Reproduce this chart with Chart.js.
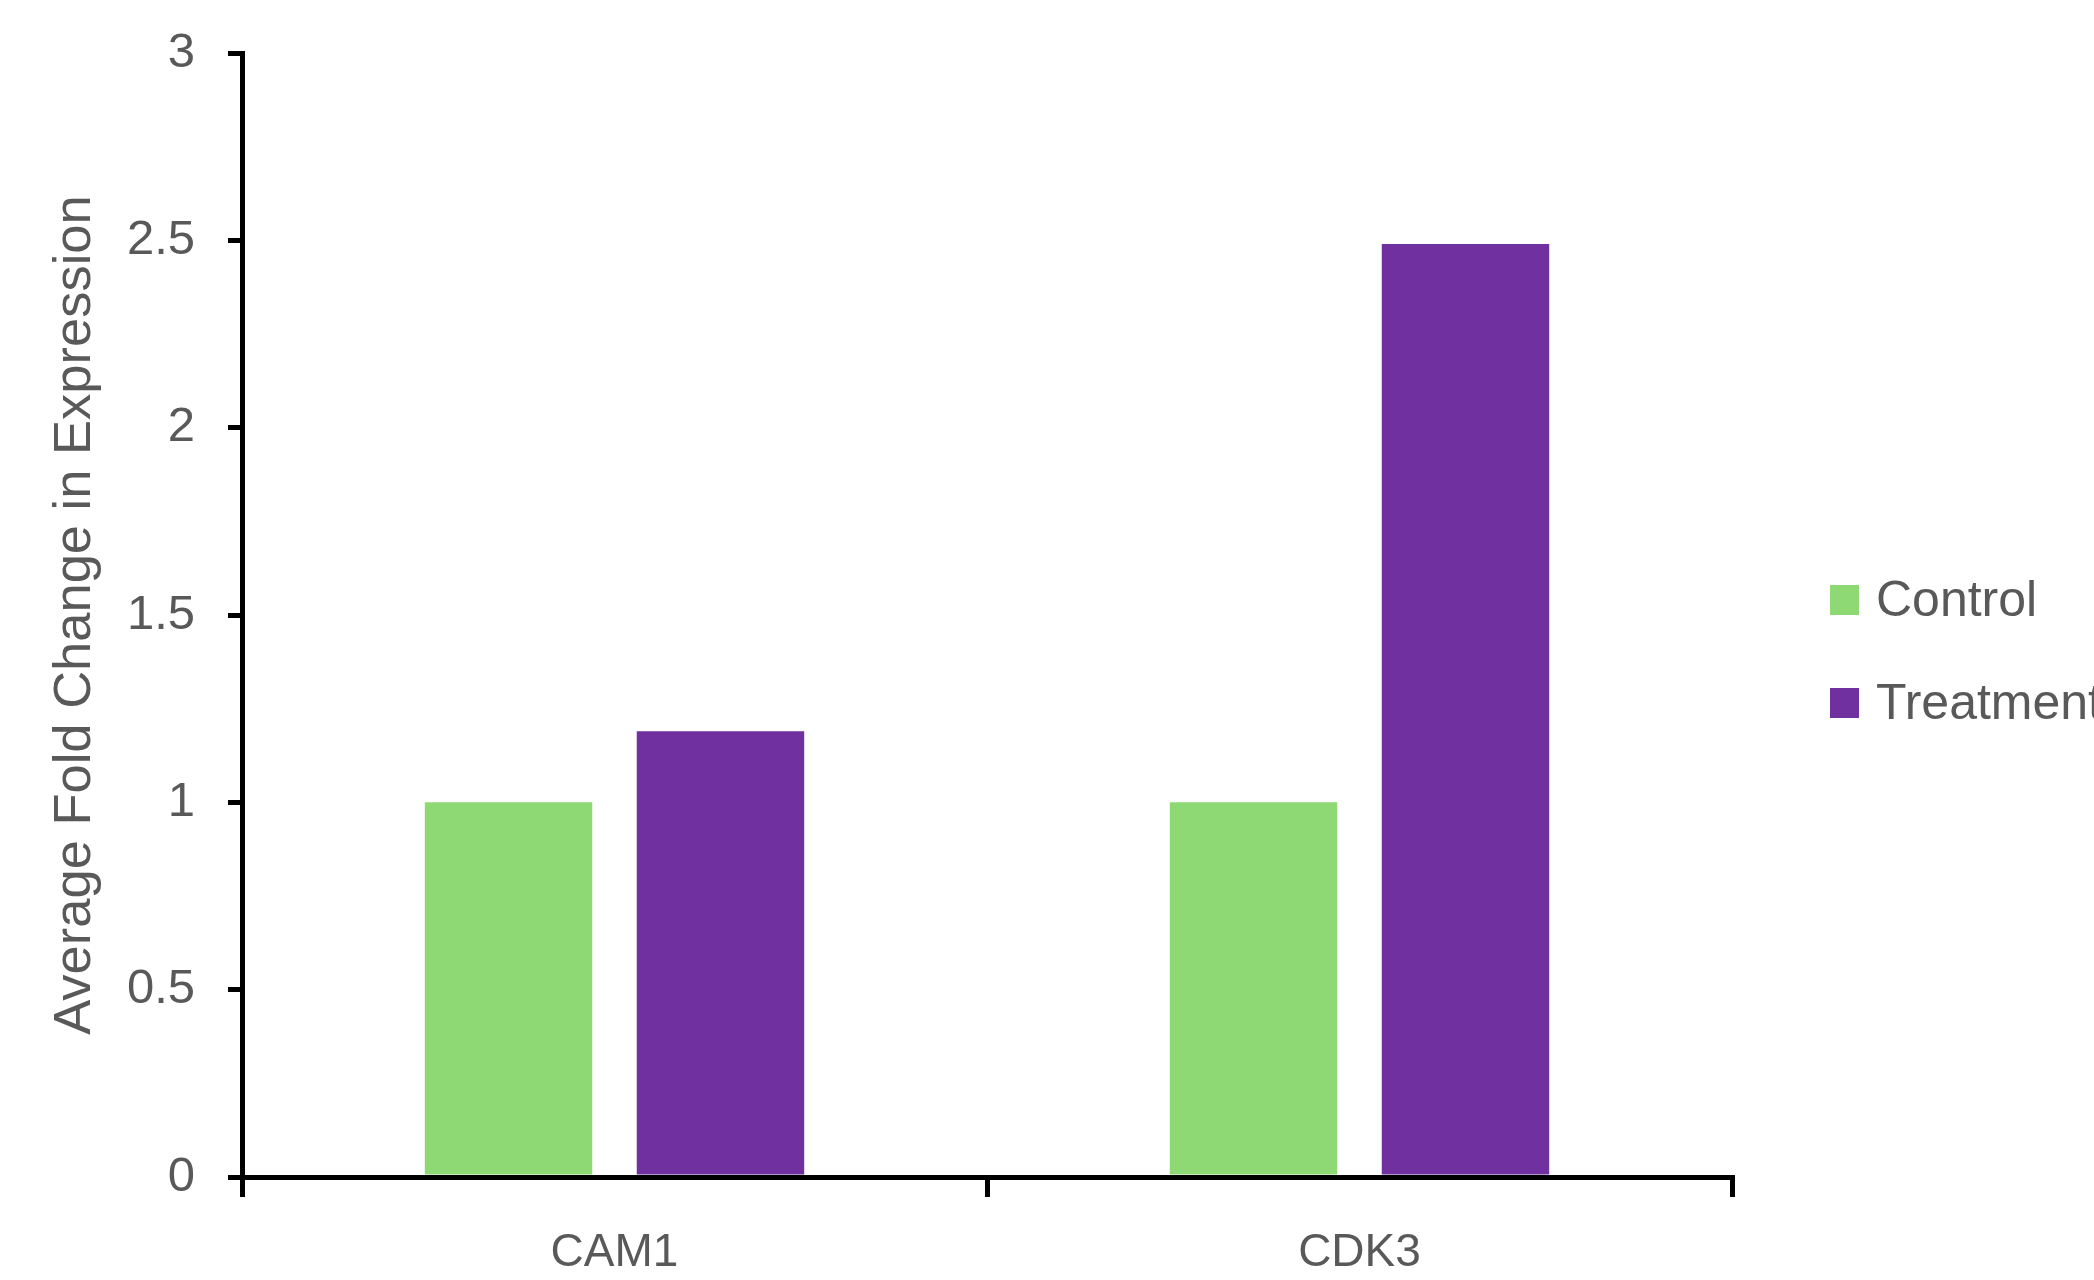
<!DOCTYPE html>
<html><head><meta charset="utf-8">
<script src="https://cdn.jsdelivr.net/npm/chart.js@4.4.0/dist/chart.umd.min.js"></script>
<style>html,body{margin:0;padding:0;background:#fff;overflow:hidden}#wrap{width:2094px;height:1280px;position:relative}</style>
</head><body><div id="wrap"><canvas id="c" width="2094" height="1280"></canvas></div>
<script>
const categories = ['CAM1', 'CDK3'];
const seriesNames = ['Control', 'Treatment'];
const controlValues = [1.0, 1.0];
const treatmentValues = [1.19, 2.49];
const yTickValues = [0, 0.5, 1, 1.5, 2, 2.5, 3];
const yTickLabels = ['0', '0.5', '1', '1.5', '2', '2.5', '3'];
const yAxisTitle = 'Average Fold Change in Expression';

const FONT = '"Liberation Sans", Arial, sans-serif';
const TEXT = '#595959';

const legendPlugin = {
  id: 'customLegend',
  afterDraw(chart) {
    const ctx = chart.ctx;
    ctx.save();
    ctx.font = '50px ' + FONT;
    ctx.textBaseline = 'middle';
    ctx.textAlign = 'left';
    const ys = [600, 703];
    chart.data.datasets.forEach((ds, i) => {
      ctx.fillStyle = ds.backgroundColor;
      ctx.fillRect(1830, ys[i] - 15, 29, 30);
      ctx.fillStyle = TEXT;
      ctx.fillText(ds.label, 1876, ys[i] + 2);
    });
    ctx.restore();
  }
};

new Chart(document.getElementById('c'), {
  type: 'bar',
  data: {
    labels: categories,
    datasets: [
      { label: seriesNames[0], data: controlValues, backgroundColor: '#8ED973' },
      { label: seriesNames[1], data: treatmentValues, backgroundColor: '#7030A0' }
    ]
  },
  options: {
    responsive: false,
    devicePixelRatio: 1,
    animation: false,
    layout: { padding: { top: 53, right: 362, bottom: 0, left: 0 } },
    plugins: { legend: { display: false }, tooltip: { enabled: false } },
    datasets: { bar: { categoryPercentage: 0.569, barPercentage: 0.79 } },
    scales: {
      x: {
        grid: { drawOnChartArea: false, drawTicks: true, tickLength: 20, color: '#000', lineWidth: 5 },
        border: { display: true, color: '#000', width: 5 },
        ticks: { color: TEXT, font: { family: FONT, size: 46 }, padding: 29 },
        afterFit(s) { s.height = 103; s.paddingLeft = 0; s.paddingRight = 0; }
      },
      y: {
        min: 0, max: 3,
        grid: { drawOnChartArea: false, drawTicks: true, tickLength: 14, color: '#000', lineWidth: 5 },
        border: { display: true, color: '#000', width: 5 },
        ticks: {
          stepSize: 0.5, color: TEXT, font: { family: FONT, size: 49 }, padding: 33,
          callback: (v) => { const i = yTickValues.indexOf(v); return i >= 0 ? yTickLabels[i] : ''; }
        },
        title: { display: true, text: yAxisTitle, color: TEXT, font: { family: FONT, size: 52.5 }, padding: { top: 44, bottom: 0 } },
        afterFit(s) { s.width = 242; s.paddingTop = 0; s.paddingBottom = 0; }
      }
    }
  },
  plugins: [legendPlugin]
});
</script></body></html>
